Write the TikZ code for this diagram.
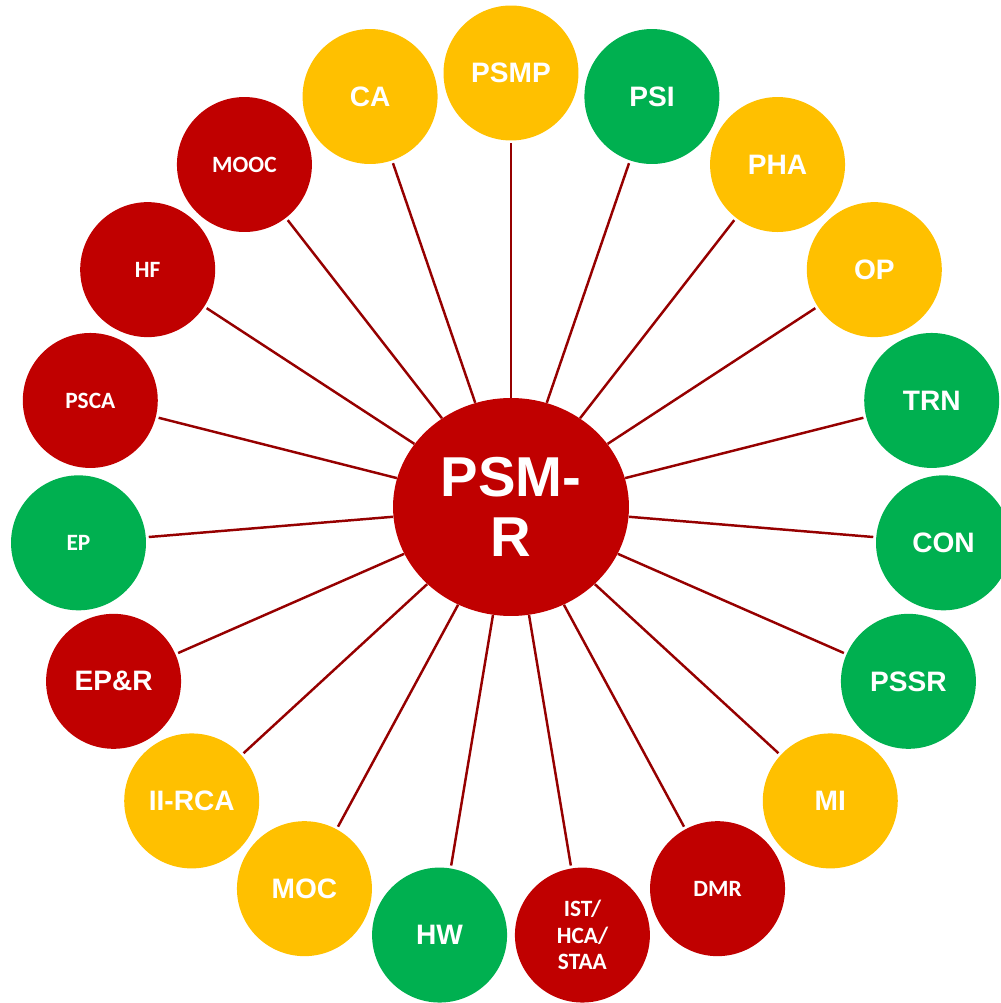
\documentclass[tikz,border=0pt]{standalone}
\usepackage{fontspec}
\setmainfont{Liberation Sans}
\newfontfamily\calibrifont{Carlito}
\usetikzlibrary{shapes.geometric}
\definecolor{hubred}{RGB}{192, 0, 0}
\definecolor{amber}{RGB}{255, 192, 0}
\definecolor{leafgreen}{RGB}{0, 176, 80}
\definecolor{spokered}{RGB}{150, 0, 0}

\tikzset{
  hub/.style={ellipse, fill=hubred, minimum width=4.72cm, minimum height=4.36cm,
    inner sep=0pt, text=white, align=center,
    font=\fontsize{32}{34}\selectfont\bfseries},
  leaf/.style={circle, fill=#1, minimum size=2.7cm, inner sep=0pt,
    outer sep=0.06cm, text=white, align=center},
  bigtext/.style={font=\fontsize{16}{19}\selectfont\bfseries},
  smalltext/.style={font=\calibrifont\fontsize{13.3}{15}\selectfont\bfseries},
  spoke/.style={draw=spokered, line width=1.4pt}
}

\begin{document}
\begin{tikzpicture}[x=0.02cm, y=0.02cm]
  \useasboundingbox (-511,-496) rectangle (489,507);
  \node[hub] (psmr) at (0,0) {PSM-\\R};
  % ring of 19 topics, clockwise from the top
  \foreach \name/\txt/\col/\size [count=\i from 0] in {
      psmp/PSMP/amber/bigtext,
      psi/PSI/leafgreen/bigtext,
      pha/PHA/amber/bigtext,
      op/OP/amber/bigtext,
      trn/TRN/leafgreen/bigtext,
      con/CON/leafgreen/bigtext,
      pssr/PSSR/leafgreen/bigtext,
      mi/MI/amber/bigtext,
      dmr/DMR/hubred/smalltext,
      ist/{IST/\\HCA/\\STAA}/hubred/smalltext,
      hw/HW/leafgreen/bigtext,
      moc/MOC/amber/bigtext,
      iirca/II-RCA/amber/bigtext,
      epr/EP\&R/hubred/bigtext,
      ep/EP/leafgreen/smalltext,
      psca/PSCA/hubred/smalltext,
      hf/HF/hubred/smalltext,
      mooc/MOOC/hubred/smalltext,
      ca/CA/amber/bigtext}{
    \node[leaf=\col, \size] (\name) at ({90-\i*360/19}:434) {\txt};
    \draw[spoke] (psmr) -- (\name);
  }
\end{tikzpicture}
\end{document}
